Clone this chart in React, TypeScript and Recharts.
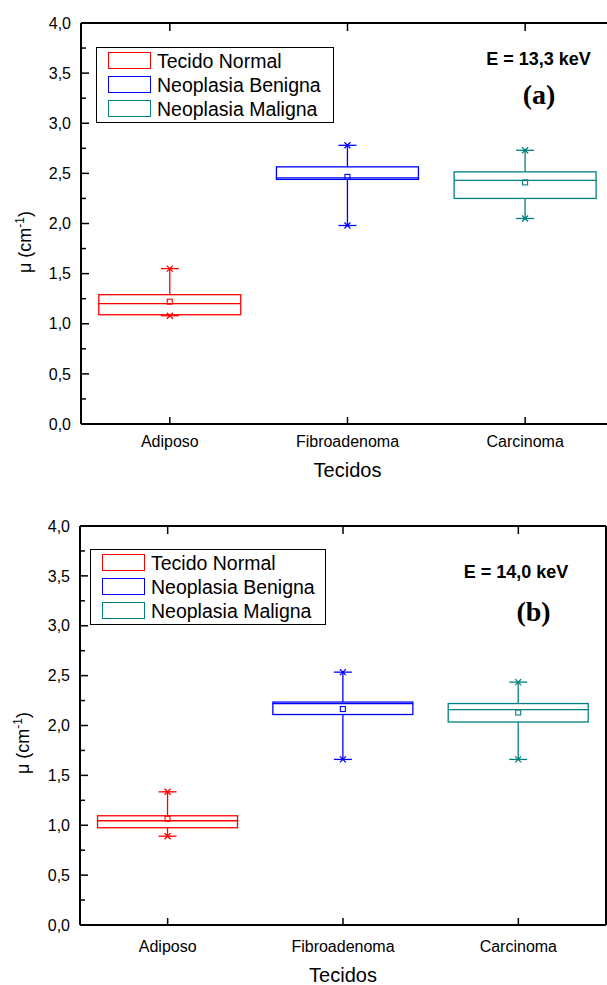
import React from 'react';
import { ComposedChart, Bar, XAxis, YAxis, Legend, Customized } from 'recharts';

const categories = ['Adiposo', 'Fibroadenoma', 'Carcinoma'];
const positions = [1, 2, 3];
const seriesNames = ['Tecido Normal', 'Neoplasia Benigna', 'Neoplasia Maligna'];
const colors = ['#ff0000', '#0000ff', '#008080'];

const yTicks = [0, 0.25, 0.5, 0.75, 1, 1.25, 1.5, 1.75, 2, 2.25, 2.5, 2.75, 3, 3.25, 3.5, 3.75, 4];
const xTicks = [1, 2, 3];

// E = 13,3 keV
const minA = [1.08, 1.98, 2.05];
const q1A = [1.09, 2.44, 2.25];
const medianA = [1.2, 2.455, 2.43];
const q3A = [1.29, 2.565, 2.515];
const maxA = [1.55, 2.78, 2.73];
const meanA = [1.22, 2.465, 2.41];

// E = 14,0 keV
const minB = [0.89, 1.66, 1.66];
const q1B = [0.975, 2.11, 2.035];
const medianB = [1.045, 2.22, 2.16];
const q3B = [1.095, 2.235, 2.22];
const maxB = [1.335, 2.535, 2.435];
const meanB = [1.065, 2.165, 2.13];

const FONT = 'Liberation Sans, Arial, Helvetica, sans-serif';

function buildRows(mins: number[], q1s: number[], meds: number[], q3s: number[], maxs: number[], means: number[]) {
  return categories.map((name, i) => ({
    name,
    pos: positions[i],
    min: mins[i],
    q1: q1s[i],
    median: meds[i],
    q3: q3s[i],
    max: maxs[i],
    mean: means[i],
  }));
}

const rowsA = buildRows(minA, q1A, medianA, q3A, maxA, meanA);
const rowsB = buildRows(minB, q1B, medianB, q3B, maxB, meanB);

const fmt = (v: number) => v.toFixed(1).replace('.', ',');
const isMajor = (v: number) => Math.abs(v * 2 - Math.round(v * 2)) < 1e-6;

const LeftTick = (props: any) => {
  const { x, y, payload } = props;
  const major = isMajor(payload.value);
  return (
    <g>
      <line x1={x} x2={x + (major ? 8 : 5)} y1={y} y2={y} stroke="#000" strokeWidth={1.5} />
      {major && (
        <text x={x - 10} y={y + 5.7} textAnchor="end" fontSize={16} fontFamily={FONT} fill="#000">
          {fmt(payload.value)}
        </text>
      )}
    </g>
  );
};

const RightTick = (props: any) => {
  const { x, y, payload } = props;
  const major = isMajor(payload.value);
  return <line x1={x} x2={x - (major ? 8 : 5)} y1={y} y2={y} stroke="#000" strokeWidth={1.5} />;
};

const TopTick = (props: any) => {
  const { x, y } = props;
  return <line x1={x} x2={x} y1={y} y2={y + 8} stroke="#000" strokeWidth={1.5} />;
};

const makeBottomTick = (labelDy: number) => (props: any) => {
  const { x, y, payload } = props;
  const idx = positions.indexOf(payload.value);
  return (
    <g>
      <line x1={x} x2={x} y1={y} y2={y - 7} stroke="#000" strokeWidth={1.5} />
      <text x={x} y={y + labelDy} textAnchor="middle" fontSize={16} fontFamily={FONT} fill="#000">
        {categories[idx]}
      </text>
    </g>
  );
};

const BoxShape = (props: any) => {
  const { x, y, width, height, payload } = props;
  if (!payload) return null;
  const idx = categories.indexOf(payload.name);
  const c = colors[idx];
  const top = Math.min(y, y + height);
  const h = Math.abs(height);
  const { min, max, q1, q3, median, mean } = payload;
  const py = (v: number) => top + (h * (max - v)) / (max - min);
  const cx = x + width / 2;
  const sw = 1.3;
  const cap = (yy: number) => (
    <g>
      <line x1={cx - 9} x2={cx + 9} y1={yy} y2={yy} stroke={c} strokeWidth={sw} />
      <line x1={cx - 3} x2={cx + 3} y1={yy - 3} y2={yy + 3} stroke={c} strokeWidth={sw} />
      <line x1={cx - 3} x2={cx + 3} y1={yy + 3} y2={yy - 3} stroke={c} strokeWidth={sw} />
    </g>
  );
  return (
    <g>
      <line x1={cx} x2={cx} y1={py(max)} y2={py(q3)} stroke={c} strokeWidth={sw} />
      <line x1={cx} x2={cx} y1={py(q1)} y2={py(min)} stroke={c} strokeWidth={sw} />
      <rect x={x} y={py(q3)} width={width} height={py(q1) - py(q3)} fill="none" stroke={c} strokeWidth={sw} />
      <line x1={x} x2={x + width} y1={py(median)} y2={py(median)} stroke={c} strokeWidth={sw} />
      <rect x={cx - 2.5} y={py(mean) - 2.5} width={5} height={5} fill="none" stroke={c} strokeWidth={1.1} />
      {cap(py(max))}
      {cap(py(min))}
    </g>
  );
};

const LegendBox = ({ w, h }: { w: number; h: number }) => (
  <div
    style={{
      position: 'relative',
      width: w,
      height: h,
      boxSizing: 'border-box',
      border: '1.3px solid #000',
      background: '#fff',
      fontFamily: FONT,
    }}
  >
    {seriesNames.map((n, i) => {
      const cy = 13 + i * 24;
      return (
        <React.Fragment key={n}>
          <div
            style={{
              position: 'absolute',
              left: 11,
              top: cy - 9,
              width: 43,
              height: 17,
              boxSizing: 'border-box',
              border: `1.5px solid ${colors[i]}`,
            }}
          />
          <div
            style={{
              position: 'absolute',
              left: 60,
              top: cy - 12,
              height: 24,
              lineHeight: '24px',
              fontSize: 19.5,
              whiteSpace: 'nowrap',
              color: '#000',
            }}
          >
            {n}
          </div>
        </React.Fragment>
      );
    })}
  </div>
);

const YTitle = ({ x, y }: { x: number; y: number }) => (
  <text transform={`translate(${x},${y}) rotate(-90)`} textAnchor="middle" fontSize={18} fontFamily={FONT} fill="#000">
    μ (cm
    <tspan dy={-7} fontSize={12}>-1</tspan>
    <tspan dy={7}>)</tspan>
  </text>
);

interface PanelProps {
  rows: any[];
  width: number;
  height: number;
  leftW: number;
  topH: number;
  tickDy: number;
  titleDy: number;
  yTitle: { x: number; y: number };
  legendPos: { left: number; top: number; w: number; h: number };
  energy: string;
  energyPos: { x: number; y: number };
  tag: string;
  tagPos: { x: number; y: number };
}

function Panel(p: PanelProps) {
  const BottomTick = makeBottomTick(p.tickDy);
  return (
    <ComposedChart width={p.width} height={p.height} data={p.rows} margin={{ top: 0, right: 0, bottom: 0, left: 0 }}>
      <XAxis
        dataKey="pos"
        type="number"
        domain={[0.5, 3.5]}
        ticks={xTicks}
        height={60}
        tickSize={0}
        tickMargin={0}
        tickLine={false}
        axisLine={{ stroke: '#000', strokeWidth: 2 }}
        tick={<BottomTick />}
        interval={0}
        label={{
          content: ({ viewBox }: any) => (
            <text
              x={viewBox.x + viewBox.width / 2}
              y={viewBox.y + p.titleDy}
              textAnchor="middle"
              fontSize={20}
              fontFamily={FONT}
              fill="#000"
            >
              Tecidos
            </text>
          ),
        }}
      />
      <XAxis
        xAxisId="top"
        orientation="top"
        dataKey="pos"
        type="number"
        domain={[0.5, 3.5]}
        ticks={xTicks}
        height={p.topH}
        tickSize={0}
        tickMargin={0}
        tickLine={false}
        axisLine={{ stroke: '#000', strokeWidth: 2 }}
        tick={<TopTick />}
        interval={0}
      />
      <YAxis
        type="number"
        domain={[0, 4]}
        ticks={yTicks}
        width={p.leftW}
        tickSize={0}
        tickMargin={0}
        tickLine={false}
        axisLine={{ stroke: '#000', strokeWidth: 2 }}
        tick={<LeftTick />}
        interval={0}
        label={{ content: () => <YTitle x={p.yTitle.x} y={p.yTitle.y} /> }}
      />
      <YAxis
        yAxisId="right"
        orientation="right"
        type="number"
        domain={[0, 4]}
        ticks={yTicks}
        width={10}
        tickSize={0}
        tickMargin={0}
        tickLine={false}
        axisLine={{ stroke: '#000', strokeWidth: 2 }}
        tick={<RightTick />}
        interval={0}
      />
      <Bar dataKey={(d: any) => [d.min, d.max]} isAnimationActive={false} shape={(s: any) => <BoxShape {...s} />} />
      <Legend
        verticalAlign="middle"
        layout="horizontal"
        wrapperStyle={{ left: p.legendPos.left, top: p.legendPos.top, width: p.legendPos.w, height: p.legendPos.h }}
        content={() => <LegendBox w={p.legendPos.w} h={p.legendPos.h} />}
      />
      <Customized
        component={
          <g>
            <text x={p.energyPos.x} y={p.energyPos.y} textAnchor="middle" fontSize={18} fontWeight="bold" fontFamily={FONT} fill="#000">
              {p.energy}
            </text>
            <text
              x={p.tagPos.x}
              y={p.tagPos.y}
              textAnchor="middle"
              fontSize={28}
              fontWeight="bold"
              fontFamily="Liberation Serif, Times New Roman, serif"
              fill="#000"
            >
              {p.tag}
            </text>
          </g>
        }
      />
    </ComposedChart>
  );
}

export default function App() {
  return (
    <div
      style={{
        position: 'absolute',
        left: 0,
        top: 0,
        width: 607,
        height: 985,
        overflow: 'hidden',
        background: '#fff',
      }}
    >
      <div style={{ position: 'absolute', left: 0, top: 0 }}>
        <Panel
          rows={rowsA}
          width={624}
          height={484}
          leftW={81}
          topH={23}
          tickDy={22.7}
          titleDy={52.7}
          yTitle={{ x: 31, y: 242 }}
          legendPos={{ left: 96, top: 47, w: 238, h: 76 }}
          energy="E = 13,3 keV"
          energyPos={{ x: 538.5, y: 65 }}
          tag="(a)"
          tagPos={{ x: 539, y: 104 }}
        />
      </div>
      <div style={{ position: 'absolute', left: 0, top: 500 }}>
        <Panel
          rows={rowsB}
          width={616}
          height={485}
          leftW={80}
          topH={26}
          tickDy={26.7}
          titleDy={56.7}
          yTitle={{ x: 29, y: 243 }}
          legendPos={{ left: 90, top: 49, w: 236, h: 76 }}
          energy="E = 14,0 keV"
          energyPos={{ x: 516, y: 78.3 }}
          tag="(b)"
          tagPos={{ x: 533.5, y: 121 }}
        />
      </div>
    </div>
  );
}
